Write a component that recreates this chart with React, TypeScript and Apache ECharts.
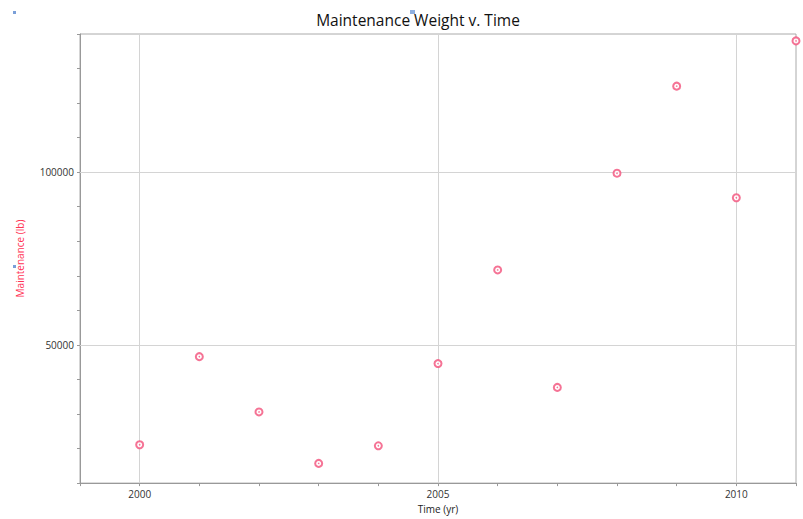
import React, { useEffect, useRef } from "react";
import * as echarts from "echarts";

const years = [2000, 2001, 2002, 2003, 2004, 2005, 2006, 2007, 2008, 2009, 2010, 2011];
const maintenance = [21100, 46600, 30600, 15700, 20800, 44600, 71700, 37700, 99700, 124900, 92600, 138000];
const xGridYears = [2000, 2005, 2010];
const yGridValues = [50000, 100000];

export default function App() {
  const ref = useRef<HTMLDivElement>(null);
  useEffect(() => {
    const chart = echarts.init(ref.current!, null, { renderer: "svg" });
    const pts = years.map((y, i) => [y, maintenance[i]]);
    chart.setOption({
      animation: false,
      backgroundColor: "#ffffff",
      title: {
        text: "Maintenance Weight v. Time",
        left: 413,
        textAlign: "center",
        top: 7,
        textStyle: { fontSize: 15.5, fontWeight: "normal", color: "#111", fontFamily: "Open Sans" },
      },
      grid: { left: 80, right: 7, top: 34, bottom: 30, show: true, borderColor: "#aaa", borderWidth: 1 },
      xAxis: {
        type: "value",
        min: 1999,
        max: 2011,
        interval: 1,
        name: "Time (yr)",
        nameLocation: "middle",
        nameGap: 19,
        nameTextStyle: { fontSize: 10, color: "#222", fontFamily: "Open Sans" },
        axisLine: { lineStyle: { color: "#999" } },
        axisTick: { show: true, length: 3, lineStyle: { color: "#999" } },
        axisLabel: {
          fontSize: 10,
          color: "#333",
          margin: 6,
          fontFamily: "Open Sans",
          formatter: (v: number) => (xGridYears.includes(v) ? String(v) : ""),
        },
        splitLine: { show: false },
      },
      yAxis: {
        type: "value",
        min: 10000,
        max: 140000,
        interval: 10000,
        name: "Maintenance (lb)",
        nameLocation: "middle",
        nameGap: 55,
        nameTextStyle: { fontSize: 10, color: "#ff3355", fontFamily: "Open Sans" },
        axisLine: { show: true, lineStyle: { color: "#999" } },
        axisTick: { show: true, length: 3, lineStyle: { color: "#999" } },
        axisLabel: {
          fontSize: 10,
          color: "#333",
          margin: 6,
          fontFamily: "Open Sans",
          formatter: (v: number) => (yGridValues.includes(v) ? String(v) : ""),
        },
        splitLine: { show: false },
      },
      series: [
        {
          type: "scatter",
          data: pts,
          symbol: "emptyCircle",
          symbolSize: 7,
          itemStyle: { color: "#f2507a", borderColor: "#f2507a", borderWidth: 1.2 },
          z: 3,
          markLine: {
            silent: true,
            symbol: "none",
            label: { show: false },
            lineStyle: { color: "#d4d4d4", type: "solid", width: 1 },
            data: [
              ...xGridYears.map((x) => ({ xAxis: x })),
              ...yGridValues.map((y) => ({ yAxis: y })),
            ],
            z: 1,
          },
        },
        {
          type: "scatter",
          data: pts,
          symbol: "circle",
          symbolSize: 1.6,
          itemStyle: { color: "#f2507a" },
          z: 4,
        },
      ],
      graphic: [
        { type: "rect", shape: { x: 13, y: 11, width: 3, height: 3 }, style: { fill: "#7a9fd8" } },
        { type: "rect", shape: { x: 13, y: 265, width: 3, height: 3 }, style: { fill: "#7a9fd8" } },
        { type: "rect", shape: { x: 410, y: 10, width: 5, height: 4 }, style: { fill: "#8fb0e0" } },
      ],
    });
    return () => chart.dispose();
  }, []);
  return <div ref={ref} style={{ position: "absolute", left: 0, top: 0, width: 803, height: 519 }} />;
}
